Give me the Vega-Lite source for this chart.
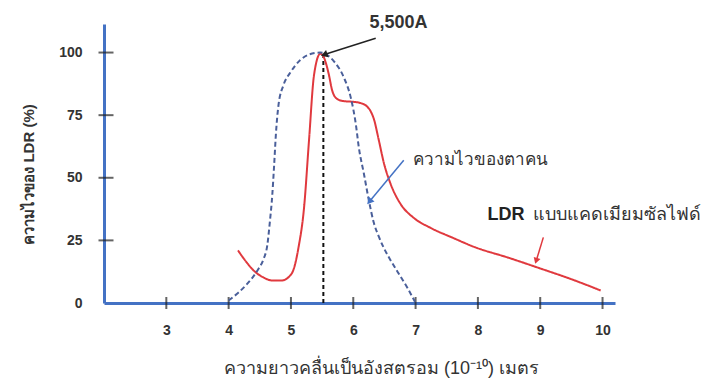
{
  "$schema": "https://vega.github.io/schema/vega-lite/v6.json",
  "width": 511,
  "height": 279,
  "autosize": "none",
  "padding": {"left": 104, "top": 24, "right": 94, "bottom": 79},
  "background": "white",
  "config": {"view": {"stroke": null}, "font": "Liberation Sans"},
  "resolve": {"scale": {"color": "independent", "strokeDash": "independent"}},
  "datasets": {
    "curves": [
      {"wl": 4.15, "s": 21, "series": "LDR"},
      {"wl": 4.28, "s": 16.5, "series": "LDR"},
      {"wl": 4.40, "s": 13, "series": "LDR"},
      {"wl": 4.55, "s": 10.3, "series": "LDR"},
      {"wl": 4.70, "s": 9, "series": "LDR"},
      {"wl": 4.85, "s": 9, "series": "LDR"},
      {"wl": 4.97, "s": 10.5, "series": "LDR"},
      {"wl": 5.05, "s": 14, "series": "LDR"},
      {"wl": 5.12, "s": 22, "series": "LDR"},
      {"wl": 5.21, "s": 38, "series": "LDR"},
      {"wl": 5.29, "s": 65, "series": "LDR"},
      {"wl": 5.37, "s": 91, "series": "LDR"},
      {"wl": 5.47, "s": 99.5, "series": "LDR"},
      {"wl": 5.52, "s": 98.5, "series": "LDR"},
      {"wl": 5.57, "s": 95, "series": "LDR"},
      {"wl": 5.61, "s": 91, "series": "LDR"},
      {"wl": 5.66, "s": 85, "series": "LDR"},
      {"wl": 5.74, "s": 81.5, "series": "LDR"},
      {"wl": 5.85, "s": 80.6, "series": "LDR"},
      {"wl": 6.01, "s": 80.3, "series": "LDR"},
      {"wl": 6.12, "s": 79.8, "series": "LDR"},
      {"wl": 6.22, "s": 78.5, "series": "LDR"},
      {"wl": 6.28, "s": 76.5, "series": "LDR"},
      {"wl": 6.33, "s": 73.5, "series": "LDR"},
      {"wl": 6.41, "s": 65, "series": "LDR"},
      {"wl": 6.49, "s": 56, "series": "LDR"},
      {"wl": 6.60, "s": 47.5, "series": "LDR"},
      {"wl": 6.76, "s": 39.5, "series": "LDR"},
      {"wl": 6.97, "s": 34, "series": "LDR"},
      {"wl": 7.24, "s": 30, "series": "LDR"},
      {"wl": 7.6, "s": 26, "series": "LDR"},
      {"wl": 7.94, "s": 22.4, "series": "LDR"},
      {"wl": 8.5, "s": 18, "series": "LDR"},
      {"wl": 9.0, "s": 13.8, "series": "LDR"},
      {"wl": 9.5, "s": 9.5, "series": "LDR"},
      {"wl": 9.97, "s": 5, "series": "LDR"},
      {"wl": 4.0, "s": 1, "series": "Eye"},
      {"wl": 4.15, "s": 4, "series": "Eye"},
      {"wl": 4.30, "s": 7.7, "series": "Eye"},
      {"wl": 4.48, "s": 13.7, "series": "Eye"},
      {"wl": 4.56, "s": 17.5, "series": "Eye"},
      {"wl": 4.62, "s": 23, "series": "Eye"},
      {"wl": 4.66, "s": 32, "series": "Eye"},
      {"wl": 4.70, "s": 43, "series": "Eye"},
      {"wl": 4.73, "s": 55, "series": "Eye"},
      {"wl": 4.76, "s": 68, "series": "Eye"},
      {"wl": 4.80, "s": 79, "series": "Eye"},
      {"wl": 4.88, "s": 87, "series": "Eye"},
      {"wl": 4.99, "s": 92, "series": "Eye"},
      {"wl": 5.15, "s": 97, "series": "Eye"},
      {"wl": 5.30, "s": 99.3, "series": "Eye"},
      {"wl": 5.47, "s": 100, "series": "Eye"},
      {"wl": 5.60, "s": 98.7, "series": "Eye"},
      {"wl": 5.69, "s": 96.5, "series": "Eye"},
      {"wl": 5.85, "s": 90, "series": "Eye"},
      {"wl": 5.96, "s": 82, "series": "Eye"},
      {"wl": 6.04, "s": 71.6, "series": "Eye"},
      {"wl": 6.09, "s": 62, "series": "Eye"},
      {"wl": 6.17, "s": 51.7, "series": "Eye"},
      {"wl": 6.25, "s": 41, "series": "Eye"},
      {"wl": 6.33, "s": 32, "series": "Eye"},
      {"wl": 6.41, "s": 26.5, "series": "Eye"},
      {"wl": 6.49, "s": 22, "series": "Eye"},
      {"wl": 6.60, "s": 17, "series": "Eye"},
      {"wl": 6.71, "s": 12.5, "series": "Eye"},
      {"wl": 6.87, "s": 6, "series": "Eye"},
      {"wl": 6.99, "s": 0.5, "series": "Eye"}
    ],
    "arrows": [
      {"name": "peak", "x": 6.36, "y": 105.7, "x2": 5.55, "y2": 99.3},
      {"name": "eye", "x": 6.81, "y": 57, "x2": 6.27, "y2": 40.8},
      {"name": "ldr", "x": 9.05, "y": 26.2, "x2": 8.94, "y2": 17.2}
    ],
    "labels": [
      {"name": "peak", "x": 6.727, "y": 111.7, "text": "5,500A"},
      {"name": "eye", "x": 6.966, "y": 57, "text": "ความไวของตาคน"},
      {"name": "ldr1", "x": 8.155, "y": 35, "text": "LDR"},
      {"name": "ldr2", "x": 8.88, "y": 35, "text": "แบบแคดเมียมซัลไฟด์"}
    ],
    "xticks": [{"v": 3}, {"v": 4}, {"v": 5}, {"v": 6}, {"v": 7}, {"v": 8}, {"v": 9}, {"v": 10}],
    "yticks": [{"v": 25}, {"v": 50}, {"v": 75}, {"v": 100}],
    "marker": [{"wl": 5.52, "s0": 0, "s1": 100}]
  },
  "layer": [
    {
      "data": {"name": "marker"},
      "mark": {"type": "rule", "color": "#111111", "strokeWidth": 2, "strokeDash": [4, 3]},
      "encoding": {
        "x": {"field": "wl", "type": "quantitative", "scale": {"domain": [2, 10.2], "nice": false, "zero": false},
          "axis": {
            "values": [3, 4, 5, 6, 7, 8, 9, 10], "format": "d", "grid": false,
            "domainColor": "#4472c4", "domainWidth": 3,
            "ticks": false,
            "labelFont": "Liberation Sans", "labelFontWeight": "bold", "labelFontSize": 14, "labelColor": "#333333",
            "labelPadding": 20,
            "title": "ความยาวคลื่นเป็นอังสตรอม (10⁻¹⁰) เมตร",
            "titleFontSize": 18, "titleFontWeight": "normal", "titleColor": "#333333",
            "titleX": 277, "titleY": 65, "titleBaseline": "middle", "titleAnchor": "middle", "titleAlign": "center"
          }
        },
        "y": {"field": "s0", "type": "quantitative", "scale": {"domain": [0, 111.4], "nice": false},
          "axis": {
            "values": [0, 25, 50, 75, 100], "format": "d", "grid": false,
            "domainColor": "#4472c4", "domainWidth": 3,
            "ticks": false,
            "labelFont": "Liberation Sans", "labelFontWeight": "bold", "labelFontSize": 14, "labelColor": "#333333",
            "labelPadding": 22,
            "title": "ความไวของ LDR (%)",
            "titleFontSize": 15, "titleFontWeight": "bold", "titleColor": "#333333",
            "titleX": -68, "titleY": 150, "titleAnchor": "middle", "titleAlign": "center"
          }
        },
        "y2": {"field": "s1"}
      }
    },
    {
      "data": {"name": "xticks"},
      "mark": {"type": "tick", "orient": "vertical", "color": "#222222", "size": 12, "thickness": 2},
      "encoding": {"x": {"field": "v", "type": "quantitative"}, "y": {"datum": 0, "type": "quantitative"}}
    },
    {
      "data": {"name": "yticks"},
      "mark": {"type": "tick", "orient": "horizontal", "color": "#222222", "size": 15, "thickness": 2, "xOffset": 2},
      "encoding": {"x": {"datum": 2, "type": "quantitative"}, "y": {"field": "v", "type": "quantitative"}}
    },
    {
      "data": {"name": "curves"},
      "mark": {"type": "line", "interpolate": "monotone", "strokeWidth": 2},
      "encoding": {
        "x": {"field": "wl", "type": "quantitative"},
        "y": {"field": "s", "type": "quantitative"},
        "color": {"field": "series", "type": "nominal", "scale": {"domain": ["LDR", "Eye"], "range": ["#e0393e", "#4a5f9a"]}, "legend": null},
        "strokeDash": {"field": "series", "type": "nominal", "scale": {"domain": ["LDR", "Eye"], "range": [[1, 0], [5, 3]]}, "legend": null}
      }
    },
    {
      "data": {"name": "arrows"},
      "transform": [{"filter": "datum.name === 'peak'"}],
      "mark": {"type": "rule", "strokeWidth": 1.5, "color": "#222222"},
      "encoding": {"x": {"field": "x", "type": "quantitative"}, "y": {"field": "y", "type": "quantitative"}, "x2": {"field": "x2"}, "y2": {"field": "y2"}}
    },
    {
      "data": {"name": "arrows"},
      "transform": [{"filter": "datum.name === 'eye'"}],
      "mark": {"type": "rule", "strokeWidth": 1.5, "color": "#4472c4"},
      "encoding": {"x": {"field": "x", "type": "quantitative"}, "y": {"field": "y", "type": "quantitative"}, "x2": {"field": "x2"}, "y2": {"field": "y2"}}
    },
    {
      "data": {"name": "arrows"},
      "transform": [{"filter": "datum.name === 'ldr'"}],
      "mark": {"type": "rule", "strokeWidth": 1.5, "color": "#e0393e"},
      "encoding": {"x": {"field": "x", "type": "quantitative"}, "y": {"field": "y", "type": "quantitative"}, "x2": {"field": "x2"}, "y2": {"field": "y2"}}
    },
    {
      "data": {"name": "arrows"},
      "transform": [{"filter": "datum.name === 'peak'"}],
      "mark": {"type": "point", "shape": "triangle", "filled": true, "color": "#222222", "size": 60, "angle": 251, "opacity": 1},
      "encoding": {"x": {"field": "x2", "type": "quantitative"}, "y": {"field": "y2", "type": "quantitative"}}
    },
    {
      "data": {"name": "arrows"},
      "transform": [{"filter": "datum.name === 'eye'"}],
      "mark": {"type": "point", "shape": "triangle", "filled": true, "color": "#4472c4", "size": 60, "angle": 220, "opacity": 1},
      "encoding": {"x": {"field": "x2", "type": "quantitative"}, "y": {"field": "y2", "type": "quantitative"}}
    },
    {
      "data": {"name": "arrows"},
      "transform": [{"filter": "datum.name === 'ldr'"}],
      "mark": {"type": "point", "shape": "triangle", "filled": true, "color": "#e0393e", "size": 50, "angle": 198, "opacity": 1},
      "encoding": {"x": {"field": "x2", "type": "quantitative"}, "y": {"field": "y2", "type": "quantitative"}}
    },
    {
      "data": {"name": "labels"},
      "transform": [{"filter": "datum.name === 'peak'"}],
      "mark": {"type": "text", "fontSize": 18, "fontWeight": "bold", "color": "#333333", "align": "center", "baseline": "middle"},
      "encoding": {"x": {"field": "x", "type": "quantitative"}, "y": {"field": "y", "type": "quantitative"}, "text": {"field": "text"}}
    },
    {
      "data": {"name": "labels"},
      "transform": [{"filter": "datum.name === 'eye'"}],
      "mark": {"type": "text", "fontSize": 17, "color": "#333333", "align": "left", "baseline": "middle"},
      "encoding": {"x": {"field": "x", "type": "quantitative"}, "y": {"field": "y", "type": "quantitative"}, "text": {"field": "text"}}
    },
    {
      "data": {"name": "labels"},
      "transform": [{"filter": "datum.name === 'ldr1'"}],
      "mark": {"type": "text", "fontSize": 18, "fontWeight": "bold", "color": "#222222", "align": "left", "baseline": "middle"},
      "encoding": {"x": {"field": "x", "type": "quantitative"}, "y": {"field": "y", "type": "quantitative"}, "text": {"field": "text"}}
    },
    {
      "data": {"name": "labels"},
      "transform": [{"filter": "datum.name === 'ldr2'"}],
      "mark": {"type": "text", "fontSize": 18, "color": "#333333", "align": "left", "baseline": "middle"},
      "encoding": {"x": {"field": "x", "type": "quantitative"}, "y": {"field": "y", "type": "quantitative"}, "text": {"field": "text"}}
    }
  ]
}
